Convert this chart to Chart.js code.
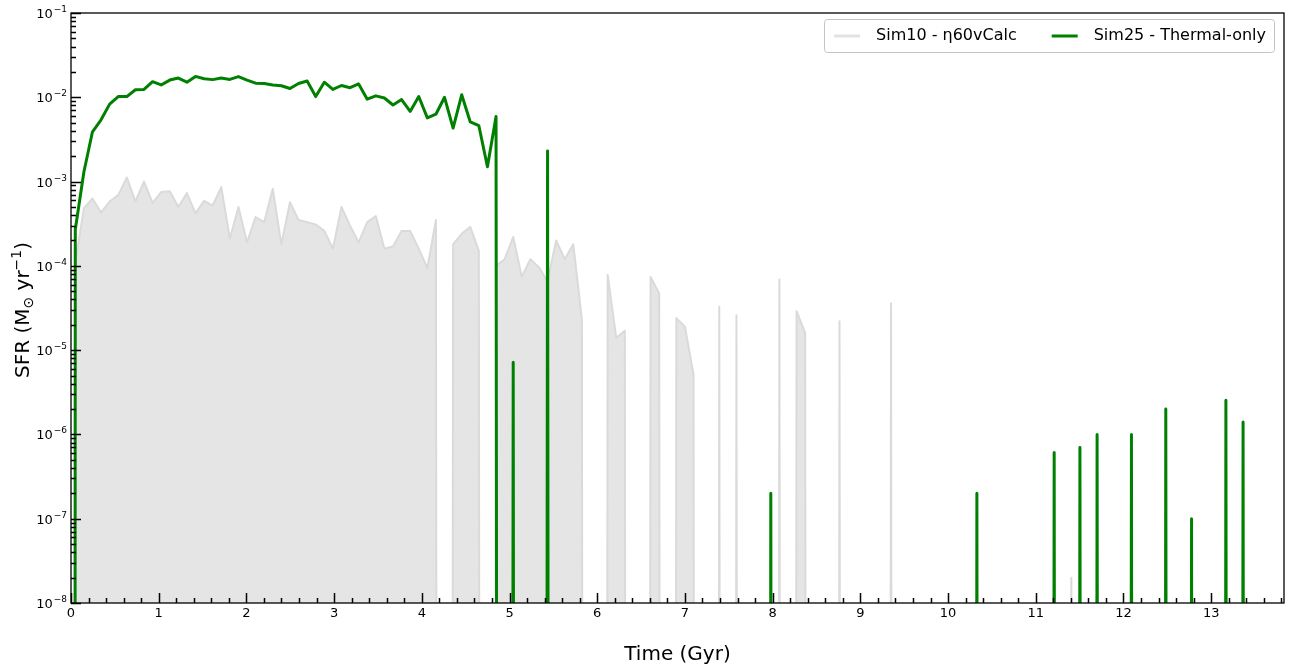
<!DOCTYPE html>
<html>
<head>
<meta charset="utf-8">
<title>SFR history</title>
<script src="https://cdn.jsdelivr.net/npm/chart.js@4.4.1/dist/chart.umd.min.js"></script>
<style>
  html, body { margin: 0; padding: 0; background: #fff; }
  canvas { display: block; }
</style>
</head>
<body>
<canvas id="sfrChart" width="1296" height="671"></canvas>
<script>
// star formation rate per time bin, Msun/yr (0 = nothing formed in that bin)
const BIN_WIDTH = 0.0979; // Gyr
const X_MAX = 13.83;

const sim10 = [
  1.1e-4, 4.8e-4, 6.3e-4, 4.3e-4, 5.8e-4, 6.9e-4, 1.12e-3, 5.8e-4, 1.0e-3, 5.6e-4,
  7.5e-4, 7.7e-4, 5.0e-4, 7.3e-4, 4.2e-4, 5.9e-4, 5.2e-4, 8.6e-4, 2.1e-4, 5.0e-4,
  1.9e-4, 3.8e-4, 3.3e-4, 8.2e-4, 1.8e-4, 5.7e-4, 3.5e-4, 3.3e-4, 3.1e-4, 2.6e-4,
  1.6e-4, 5.0e-4, 3.0e-4, 1.9e-4, 3.3e-4, 3.9e-4, 1.6e-4, 1.7e-4, 2.6e-4, 2.6e-4,
  1.6e-4, 9.4e-5, 3.5e-4, 0, 1.8e-4, 2.4e-4, 2.9e-4, 1.5e-4, 0, 1.0e-4,
  1.2e-4, 2.2e-4, 7.4e-5, 1.2e-4, 9.6e-5, 6.5e-5, 2.0e-4, 1.2e-4, 1.8e-4, 2.3e-5,
  0, 0, 7.8e-5, 1.4e-5, 1.7e-5, 0, 0, 7.4e-5, 4.7e-5, 0,
  2.4e-5, 1.9e-5, 5.1e-6, 0, 0, 3.3e-5, 0, 2.6e-5, 0, 0,
  0, 0, 6.9e-5, 0, 2.9e-5, 1.6e-5, 0, 0, 0, 2.2e-5,
  0, 0, 0, 0, 0, 3.6e-5, 0, 0, 0, 0,
  0, 0, 0, 0, 0, 0, 0, 0, 0, 0,
  0, 0, 0, 0, 0, 0, 2.0e-8, 0, 0, 0,
  0, 0, 0, 0, 0, 0, 0, 0, 0, 0,
  0, 0, 0, 0, 0, 0, 0, 0, 0, 0,
  0
];

const sim25 = [
  2.7e-4, 1.3e-3, 3.9e-3, 5.4e-3, 8.3e-3, 1.02e-2, 1.02e-2, 1.23e-2, 1.24e-2, 1.53e-2,
  1.40e-2, 1.60e-2, 1.69e-2, 1.51e-2, 1.77e-2, 1.66e-2, 1.62e-2, 1.69e-2, 1.63e-2, 1.76e-2,
  1.60e-2, 1.47e-2, 1.46e-2, 1.40e-2, 1.37e-2, 1.27e-2, 1.46e-2, 1.56e-2, 1.02e-2, 1.51e-2,
  1.24e-2, 1.38e-2, 1.30e-2, 1.44e-2, 9.5e-3, 1.04e-2, 9.8e-3, 8.1e-3, 9.4e-3, 6.8e-3,
  1.02e-2, 5.7e-3, 6.3e-3, 1.0e-2, 4.3e-3, 1.07e-2, 5.1e-3, 4.6e-3, 1.5e-3, 5.9e-3,
  0, 7.2e-6, 0, 0, 0, 2.3e-3, 0, 0, 0, 0,
  0, 0, 0, 0, 0, 0, 0, 0, 0, 0,
  0, 0, 0, 0, 0, 0, 0, 0, 0, 0,
  0, 2.0e-7, 0, 0, 0, 0, 0, 0, 0, 0,
  0, 0, 0, 0, 0, 0, 0, 0, 0, 0,
  0, 0, 0, 0, 0, 2.0e-7, 0, 0, 0, 0,
  0, 0, 0, 0, 6.1e-7, 0, 0, 7.0e-7, 0, 1.0e-6,
  0, 0, 0, 1.0e-6, 0, 0, 0, 2.0e-6, 0, 0,
  1.0e-7, 0, 0, 0, 2.55e-6, 0, 1.4e-6, 0, 0, 0,
  0
];

const seriesNames = ["Sim10 - η60vCalc", "Sim25 - Thermal-only"];
const xTicks = [0, 1, 2, 3, 4, 5, 6, 7, 8, 9, 10, 11, 12, 13];
const yTicks = [1e-8, 1e-7, 1e-6, 1e-5, 1e-4, 1e-3, 1e-2, 1e-1];
const yTickExponents = ["−8", "−7", "−6", "−5", "−4", "−3", "−2", "−1"];

// log(0) is pushed far below the axis, so empty bins drop straight down like a clipped value
const FLOOR = 1e-100;

function toPoints(vals) {
  const pts = [{ x: 0, y: FLOOR }];
  vals.forEach((v, i) => pts.push({ x: (i + 0.5) * BIN_WIDTH, y: v > 0 ? v : FLOOR }));
  return pts;
}

const FONT = "DejaVu Sans";

// inward tick marks, box around the plot, power-of-ten labels and the y title
const frame = {
  id: "frame",
  afterDraw(chart) {
    const { ctx, chartArea: a, scales: { x, y } } = chart;
    ctx.save();
    ctx.strokeStyle = "#000";
    ctx.lineWidth = 1.5;
    ctx.beginPath();
    for (let k = 0; k * 0.2 <= X_MAX; k++) {
      const px = Math.round(x.getPixelForValue(k * 0.2)) + 0.5;
      const len = k % 5 === 0 ? 10 : 5;
      ctx.moveTo(px, a.bottom);
      ctx.lineTo(px, a.bottom - len);
    }
    for (let e = -8; e <= -1; e++) {
      for (let m = 1; m <= 9; m++) {
        if (e === -1 && m > 1) break;
        const py = Math.round(y.getPixelForValue(m * Math.pow(10, e))) + 0.5;
        const len = m === 1 ? 10 : 5;
        ctx.moveTo(a.left, py);
        ctx.lineTo(a.left + len, py);
      }
    }
    ctx.stroke();
    ctx.lineWidth = 1.3;
    ctx.strokeRect(a.left, a.top, a.right - a.left, a.bottom - a.top);

    // y tick labels: "10" with a raised exponent
    ctx.fillStyle = "#000";
    ctx.textBaseline = "alphabetic";
    yTicks.forEach((v, i) => {
      const py = y.getPixelForValue(v);
      ctx.font = "9px " + FONT;
      const ew = ctx.measureText(yTickExponents[i]).width;
      ctx.font = "13px " + FONT;
      const bw = ctx.measureText("10").width;
      const right = a.left - 4;
      ctx.textAlign = "left";
      ctx.fillText("10", right - ew - bw - 1, py + 5);
      ctx.font = "9px " + FONT;
      ctx.fillText(yTickExponents[i], right - ew, py - 1);
    });

    // y axis title, rotated, with subscript sun symbol and superscript -1
    const parts = [
      { t: "SFR (M", size: 20, dy: 0 },
      { t: "⊙", size: 14, dy: 4 },
      { t: " yr", size: 20, dy: 0 },
      { t: "−1", size: 14, dy: -8 },
      { t: ")", size: 20, dy: 0 }
    ];
    let total = 0;
    parts.forEach(p => {
      ctx.font = p.size + "px " + FONT;
      p.w = ctx.measureText(p.t).width;
      total += p.w;
    });
    ctx.translate(22, (a.top + a.bottom) / 2 + 2);
    ctx.rotate(-Math.PI / 2);
    let cx = -total / 2;
    parts.forEach(p => {
      ctx.font = p.size + "px " + FONT;
      ctx.fillText(p.t, cx, 7 + p.dy);
      cx += p.w;
    });
    ctx.restore();
  }
};

// legend box in the upper right corner of the plot
const legendBox = {
  id: "legendBox",
  afterDraw(chart) {
    const { ctx, chartArea: a } = chart;
    const sets = chart.data.datasets;
    ctx.save();
    ctx.font = "16px " + FONT;
    const widths = sets.map(d => ctx.measureText(d.label).width);
    const pad = 10, sample = 26, gap = 16, between = 35;
    const w = pad + sample + gap + widths[0] + between + sample + gap + widths[1] + 8;
    const h = 33;
    const bx = a.right - 10 - w, by = a.top + 6;
    ctx.fillStyle = "rgba(255,255,255,0.85)";
    ctx.strokeStyle = "#c4c4c4";
    ctx.lineWidth = 1;
    ctx.beginPath();
    ctx.roundRect(bx + 0.5, by + 0.5, w, h, 3);
    ctx.fill();
    ctx.stroke();
    let cx = bx + pad;
    const cy = by + h / 2 + 0.5;
    sets.forEach((d, i) => {
      ctx.strokeStyle = d.legendColor || d.borderColor;
      ctx.lineWidth = 3;
      ctx.beginPath();
      ctx.moveTo(cx, cy);
      ctx.lineTo(cx + sample, cy);
      ctx.stroke();
      cx += sample + gap;
      ctx.fillStyle = "#000";
      ctx.textBaseline = "middle";
      ctx.fillText(d.label, cx, cy);
      cx += widths[i] + between;
    });
    ctx.restore();
  }
};

new Chart(document.getElementById("sfrChart"), {
  type: "line",
  data: {
    datasets: [
      {
        label: seriesNames[0],
        data: toPoints(sim10),
        borderColor: "#dadada",
        legendColor: "#e2e2e2",
        backgroundColor: "#e5e5e5",
        borderWidth: 2,
        fill: "start",
        pointRadius: 0,
        borderJoinStyle: "round",
        order: 2
      },
      {
        label: seriesNames[1],
        data: toPoints(sim25),
        borderColor: "#008000",
        borderWidth: 3,
        fill: false,
        pointRadius: 0,
        borderJoinStyle: "round",
        order: 1
      }
    ]
  },
  options: {
    responsive: false,
    animation: false,
    devicePixelRatio: 1,
    layout: { padding: { left: 0, top: 13, right: 12, bottom: 0 } },
    plugins: { legend: { display: false }, tooltip: { enabled: false } },
    scales: {
      x: {
        type: "linear",
        min: 0,
        max: X_MAX,
        grid: { display: false, drawTicks: false },
        border: { display: false },
        afterBuildTicks: s => { s.ticks = xTicks.map(v => ({ value: v })); },
        afterFit: s => { s.height = 68; },
        ticks: {
          autoSkip: false, maxRotation: 0, padding: 3, color: "#000",
          font: { family: FONT, size: 13 }
        },
        title: {
          display: true, text: "Time (Gyr)", color: "#000",
          font: { family: FONT, size: 20 }, padding: { top: 0, bottom: 4 }
        }
      },
      y: {
        type: "logarithmic",
        min: 1e-8,
        max: 1e-1,
        grid: { display: false, drawTicks: false },
        border: { display: false },
        afterBuildTicks: s => { s.ticks = yTicks.map(v => ({ value: v })); },
        afterFit: s => { s.width = 71; },
        ticks: { display: false },
        title: { display: false }
      }
    }
  },
  plugins: [frame, legendBox]
});
</script>
</body>
</html>
